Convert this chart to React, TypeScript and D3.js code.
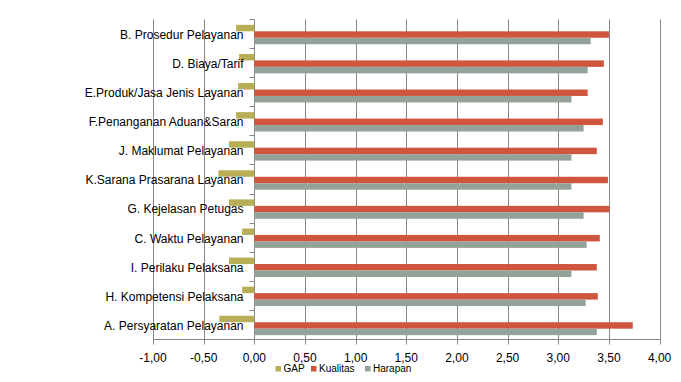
import React from "react";
import * as d3 from "d3";

const categories = [
  "B. Prosedur Pelayanan",
  "D. Biaya/Tarif",
  "E.Produk/Jasa Jenis Layanan",
  "F.Penanganan Aduan&Saran",
  "J. Maklumat Pelayanan",
  "K.Sarana Prasarana Layanan",
  "G. Kejelasan Petugas",
  "C. Waktu Pelayanan",
  "I. Perilaku Pelaksana",
  "H. Kompetensi Pelaksana",
  "A. Persyaratan Pelayanan",
];
const gap = [-0.18, -0.15, -0.16, -0.18, -0.25, -0.355, -0.25, -0.12, -0.25, -0.12, -0.345];
const kualitas = [3.5, 3.45, 3.29, 3.44, 3.38, 3.49, 3.505, 3.41, 3.38, 3.39, 3.735];
const harapan = [3.32, 3.29, 3.13, 3.25, 3.13, 3.13, 3.25, 3.28, 3.13, 3.27, 3.38];
const seriesNames = ["GAP", "Kualitas", "Harapan"];
const seriesColors = ["#B7AE55", "#CF553F", "#94A39A"];
const xTicks = [-1, -0.5, 0, 0.5, 1, 1.5, 2, 2.5, 3, 3.5, 4];

export default function App() {
  const W = 681, H = 382;
  const x = d3.scaleLinear().domain([-1, 4]).range([153, 659.6]);
  const y0 = d3.scaleBand<string>().domain(categories).range([20, 340]);
  const bw = y0.bandwidth();
  const groupH = bw * (3 / 4.5);
  const y1 = d3
    .scaleBand<string>()
    .domain(seriesNames)
    .range([(bw - groupH) / 2, (bw + groupH) / 2]);
  const values = [gap, kualitas, harapan];
  const fmt = (v: number) => v.toFixed(2).replace(".", ",");
  const grid = "#878787";
  const top = 19.5, bottom = 339.5;
  const font = "'Liberation Sans', Arial, sans-serif";
  const legendX = [275.5, 311, 365];

  return (
    <svg width={W} height={H} style={{ position: "absolute", left: 0, top: 0, background: "#fff" }}>
      {xTicks.map((t) => (
        <line key={"g" + t} x1={Math.round(x(t)) + 0.5} x2={Math.round(x(t)) + 0.5} y1={top} y2={bottom + 5} stroke={grid} strokeWidth={1} />
      ))}
      <line x1={x(-1)} x2={x(4) + 1} y1={bottom} y2={bottom} stroke={grid} strokeWidth={1} />
      {categories.map((c, i) => (
        <line key={"yt" + i} x1={Math.round(x(0)) - 4.5} x2={Math.round(x(0)) + 0.5} y1={Math.round(y0(c)!) - 0.5} y2={Math.round(y0(c)!) - 0.5} stroke={grid} />
      ))}
      {categories.map((c, i) =>
        values.map((vals, s) => {
          const v = vals[i];
          const yy = y0(c)! + y1(seriesNames[s])!;
          return (
            <rect
              key={c + s}
              x={x(Math.min(0, v))}
              width={Math.abs(x(v) - x(0))}
              y={yy}
              height={y1.bandwidth()}
              fill={seriesColors[s]}
            />
          );
        })
      )}
      {categories.map((c) => (
        <text key={"l" + c} x={243.5} y={y0(c)! + bw / 2} dy="0.36em" textAnchor="end" fontFamily={font} fontSize={12} fill="#000">
          {c}
        </text>
      ))}
      {xTicks.map((t) => (
        <text key={"t" + t} x={x(t)} y={361.5} textAnchor="middle" fontFamily={font} fontSize={12} fill="#000">
          {fmt(t)}
        </text>
      ))}
      {seriesNames.map((s, i) => (
        <g key={"lg" + s}>
          <rect x={legendX[i]} y={366} width={5.5} height={5.5} fill={seriesColors[i]} />
          <text x={legendX[i] + 8} y={371.7} fontFamily={font} fontSize={10} fill="#000">
            {s}
          </text>
        </g>
      ))}
    </svg>
  );
}
